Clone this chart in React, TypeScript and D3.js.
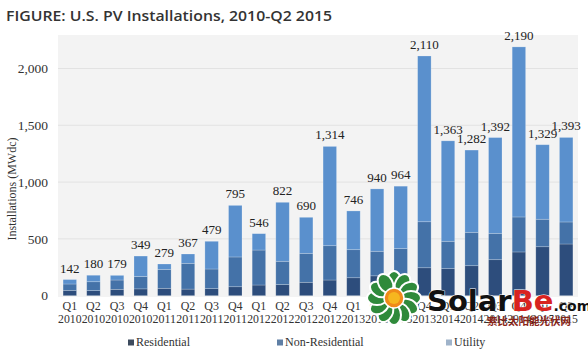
import React from "react";
import * as d3 from "d3";

const quarters = ["Q1","Q2","Q3","Q4","Q1","Q2","Q3","Q4","Q1","Q2","Q3","Q4","Q1","Q2","Q3","Q4","Q1","Q2","Q3","Q4","Q1","Q2"];
const years = ["2010","2010","2010","2010","2011","2011","2011","2011","2012","2012","2012","2012","2013","2013","2013","2013","2014","2014","2014","2014","2015","2015"];
const residential = [47,45,56,60,65,58,62,79,94,98,118,138,158,175,188,246,238,264,317,385,431,455];
const nonResidential = [56,78,82,109,167,227,173,262,308,205,255,302,247,216,226,405,241,294,232,308,242,194];
const utility = [39,57,41,180,47,82,244,454,144,519,317,874,341,549,550,1459,884,724,843,1497,656,744];
const totalLabels = [142,180,179,349,279,367,479,795,546,822,690,1314,746,940,964,2110,1363,1282,1392,2190,1329,1393];
const yTicks = [0,500,1000,1500,2000];
const seriesNames = ["Residential","Non-Residential","Utility"];
const barColors = ["#2d4d7c","#4472a8","#5a90cd"];
const legendColors = ["#3d4b5e","#5f7fa5","#9fb3ca"];

const W = 588, H = 356;
const plotL = 58, plotR = 578, plotT = 35, plotB = 297;
const serif = "Liberation Serif, Times New Roman, DejaVu Serif, serif";

export default function App() {
  const idx = d3.range(quarters.length);
  const x = d3.scaleBand<number>().domain(idx).range([plotL, plotR]).paddingInner(0.43).paddingOuter(0.215);
  const y = d3.scaleLinear().domain([0, 2300]).range([295.7, 34.4]);
  const rows = idx.map(i => ({ i, Residential: residential[i], "Non-Residential": nonResidential[i], Utility: utility[i] }));
  const stacked = d3.stack<any>().keys(seriesNames)(rows);
  const fmt = d3.format(",");
  const legendX = [128, 277, 446];
  const petals = d3.range(12).map(k => (k * 360) / 12);

  return (
    <svg width={W} height={H} style={{ position: "absolute", left: 0, top: 0, background: "#fff" }}>
      <text x={6} y={21} style={{ fontFamily: "'Open Sans', 'Noto Sans', sans-serif" }} fontWeight={600} fontSize={15} fill="#333" textLength={326} lengthAdjust="spacingAndGlyphs">FIGURE: U.S. PV Installations, 2010-Q2 2015</text>
      <rect x={plotL} y={plotT} width={plotR - plotL} height={plotB - plotT} fill="#f3f3f3" />
      {yTicks.map(t => (
        <g key={t}>
          {t > 0 && <line x1={plotL} x2={plotR} y1={y(t)} y2={y(t)} stroke="#e2e2e2" strokeWidth={1} />}
          <text x={48} y={y(t)} dy="0.35em" textAnchor="end" style={{ fontFamily: serif }} fontSize={13.5} fill="#333">{fmt(t)}</text>
        </g>
      ))}
      <text transform={`translate(16,189) rotate(-90)`} textAnchor="middle" style={{ fontFamily: serif }} fontSize={12} fill="#333">Installations (MWdc)</text>
      {stacked.map((s, si) => (
        <g key={s.key} fill={barColors[si]}>
          {s.map((d, i) => (
            <rect key={i} x={x(i)} y={y(d[1])} width={x.bandwidth()} height={y(d[0]) - y(d[1])} stroke="rgba(255,255,255,0.3)" strokeWidth={0.7} />
          ))}
        </g>
      ))}
      {idx.map(i => (
        <text key={i} x={(x(i) as number) + x.bandwidth() / 2} y={y(totalLabels[i]) - 7} textAnchor="middle" style={{ fontFamily: serif }} fontSize={13} fill="#222">{fmt(totalLabels[i])}</text>
      ))}
      {idx.map(i => (
        <g key={i} style={{ fontFamily: serif }} fontSize={12} fill="#333" textAnchor="middle">
          <text x={(x(i) as number) + x.bandwidth() / 2} y={310}>{quarters[i]}</text>
          <text x={(x(i) as number) + x.bandwidth() / 2} y={323} textLength={23.5} lengthAdjust="spacingAndGlyphs">{years[i]}</text>
        </g>
      ))}
      {seriesNames.map((n, k) => (
        <g key={n}>
          <rect x={legendX[k]} y={339.5} width={6} height={6} fill={legendColors[k]} />
          <text x={legendX[k] + 8} y={346} style={{ fontFamily: serif }} fontSize={12} fill="#333">{n}</text>
        </g>
      ))}
      <g>
        <g transform="translate(394,298)">
          {petals.map(a => (
            <ellipse key={a} cx={0} cy={-17} rx={7} ry={10} fill="#2f8a3b" stroke="#fff" strokeWidth={2} transform={`rotate(${a})`} />
          ))}
          <circle r={10} fill="#f08a1a" stroke="#fff" strokeWidth={1.5} />
          <circle r={6} fill="#f6b61f" />
        </g>
        <text x={427} y={311} style={{ fontFamily: "'DejaVu Sans', sans-serif" }} fontWeight={700} fontSize={29} fill="#111" stroke="#fff" strokeWidth={0.8} paintOrder="stroke">
          Solar<tspan fill="#d8231f">Be</tspan><tspan fontSize={14}>.com</tspan>
        </text>
        <text x={487} y={325} style={{ fontFamily: "'Noto Sans CJK SC', sans-serif" }} fontWeight={700} fontSize={10.5} fill="#8a2518">索比太阳能光伏网</text>
      </g>
    </svg>
  );
}
